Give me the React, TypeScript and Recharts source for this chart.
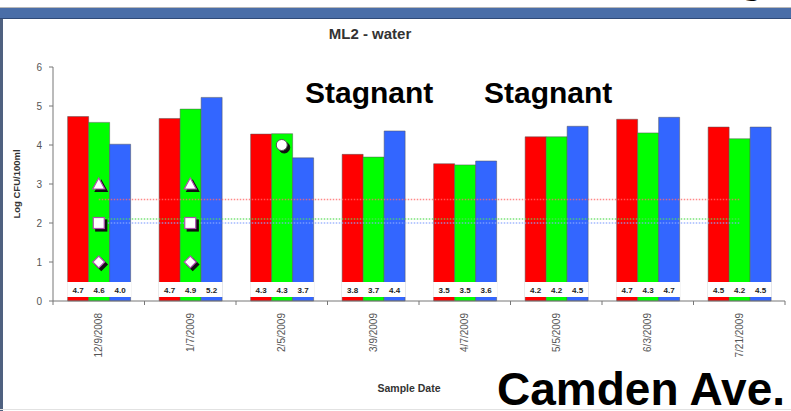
import React from 'react';
import { ComposedChart, Bar, Line, XAxis, YAxis, LabelList } from 'recharts';

// sample dates and log CFU/100ml values per series
const dates = ['12/9/2008', '1/7/2009', '2/5/2009', '3/9/2009', '4/7/2009', '5/5/2009', '6/3/2009', '7/21/2009'];
const redValues = [4.73, 4.68, 4.28, 3.76, 3.52, 4.21, 4.66, 4.46];
const greenValues = [4.58, 4.92, 4.29, 3.69, 3.49, 4.21, 4.31, 4.16];
const blueValues = [4.02, 5.22, 3.67, 4.36, 3.59, 4.48, 4.71, 4.46];

// dotted reference levels
const redLimit = 2.6;
const greenLimit = 2.1;
const blueLimit = 2.0;

// marker series (only on some dates)
const triangleValues = [3, 3, null, null, null, null, null, null];
const squareValues = [2, 2, null, null, null, null, null, null];
const diamondValues = [1, 1, null, null, null, null, null, null];
const circleValues = [null, null, 4, null, null, null, null, null];

const yTicks = [0, 1, 2, 3, 4, 5, 6];

const W = 791;
const H = 411;
const margin = { top: 67, right: 6, left: 0, bottom: 0 };
const yAxisWidth = 53;
const xAxisHeight = 110;
const halfBand = (W - margin.left - margin.right - yAxisWidth) / dates.length / 2;

const data = dates.map((date, i) => ({
  date,
  red: redValues[i],
  green: greenValues[i],
  blue: blueValues[i],
  redLimit,
  greenLimit,
  blueLimit,
  triangle: triangleValues[i],
  square: squareValues[i],
  diamond: diamondValues[i],
  circle: circleValues[i],
}));

const renderValueLabel = (props: any) => {
  const vb = props.viewBox || props;
  const { x, y, width, height } = vb;
  const value = props.value;
  if (value == null) return null;
  const bottom = y + height;
  return (
    <g>
      <rect x={x - 0.5} y={bottom - 19} width={width + 1} height={15} fill="#ffffff" />
      <text
        x={x + width / 2}
        y={bottom - 11}
        textAnchor="middle"
        dominantBaseline="central"
        fontSize={8}
        fontWeight="bold"
        fill="#222"
      >
        {Number(value).toFixed(1)}
      </text>
    </g>
  );
};

const markerDot = (kind: string) => (props: any) => {
  const { cx, cy, value, index } = props;
  const key = `${kind}-${index}`;
  if (value == null || cx == null || cy == null || isNaN(cy)) return <g key={key} />;
  const stroke = kind === 'circle' ? '#555' : '#b050b0';
  const shape = (dx: number, dy: number, fill: string, s: string) => {
    const x = cx + dx;
    const y = cy + dy;
    if (kind === 'triangle')
      return <polygon points={`${x},${y - 6} ${x + 6},${y + 5} ${x - 6},${y + 5}`} fill={fill} stroke={s} strokeWidth={1.2} />;
    if (kind === 'square')
      return <rect x={x - 5.5} y={y - 5.5} width={11} height={11} fill={fill} stroke={s} strokeWidth={1.2} />;
    if (kind === 'diamond')
      return <polygon points={`${x},${y - 6} ${x + 6},${y} ${x},${y + 6} ${x - 6},${y}`} fill={fill} stroke={s} strokeWidth={1.2} />;
    return <circle cx={x} cy={y} r={5.5} fill={fill} stroke={s} strokeWidth={1} />;
  };
  return (
    <g key={key}>
      {shape(2.5, 2.5, '#111', '#111')}
      {shape(0, 0, '#ffffff', stroke)}
    </g>
  );
};

const DateTick = (props: any) => {
  const { x, y, payload, index } = props;
  const ty = y + 12;
  return (
    <g>
      <line x1={x - halfBand} y1={y} x2={x - halfBand} y2={y + 4} stroke="#777" />
      {index === dates.length - 1 && <line x1={x + halfBand} y1={y} x2={x + halfBand} y2={y + 4} stroke="#777" />}
      <text
        x={x}
        y={ty}
        transform={`rotate(-90 ${x} ${ty})`}
        textAnchor="end"
        dy="0.35em"
        fontSize={10}
        fill="#555"
      >
        {payload.value}
      </text>
    </g>
  );
};

export default function App() {
  return (
    <div
      style={{
        position: 'absolute',
        left: 0,
        top: 0,
        width: W,
        height: H,
        background: '#fff',
        overflow: 'hidden',
        fontFamily: "'Liberation Sans', Arial, sans-serif",
      }}
    >
      {/* slide frame */}
      <div style={{ position: 'absolute', left: 0, top: 7, width: W, height: 1, background: '#b8b8b8' }} />
      <div style={{ position: 'absolute', left: 0, top: 8, width: W, height: 10, background: '#4a6ea8' }} />
      <div style={{ position: 'absolute', left: 0, top: 18, width: W, height: 1, background: '#2f4a78' }} />
      <div style={{ position: 'absolute', left: 0, top: 19, width: 3, height: H - 19, background: '#4f6180' }} />
      <div style={{ position: 'absolute', left: 0, top: 409, width: W, height: 1, background: '#e2e2e2' }} />

      <div style={{ position: 'absolute', left: 0, top: 0 }}>
        <ComposedChart width={W} height={H} data={data} margin={margin} barCategoryGap="16%" barGap={0}>
          <XAxis
            dataKey="date"
            interval={0}
            height={xAxisHeight}
            tickSize={0}
            tickMargin={0}
            tickLine={false}
            axisLine={{ stroke: '#777' }}
            tick={<DateTick />}
          />
          <XAxis xAxisId="top" dataKey="date" orientation="top" height={0} tick={false} tickLine={false} axisLine={{ stroke: '#b5b5b5' }} />
          <YAxis
            domain={[0, 6]}
            ticks={yTicks}
            width={yAxisWidth}
            tickSize={4}
            tickMargin={7}
            tick={{ fontSize: 10, fill: '#555' }}
            tickLine={{ stroke: '#777' }}
            axisLine={{ stroke: '#777' }}
          />
          <YAxis yAxisId="right" orientation="right" domain={[0, 6]} width={0} tick={false} tickLine={false} axisLine={{ stroke: '#b5b5b5' }} />

          <Bar dataKey="red" fill="#ff0000" stroke="#555" strokeWidth={0.5} isAnimationActive={false}>
            <LabelList dataKey="red" content={renderValueLabel} />
          </Bar>
          <Bar dataKey="green" fill="#00ff00" stroke="#555" strokeWidth={0.5} isAnimationActive={false}>
            <LabelList dataKey="green" content={renderValueLabel} />
          </Bar>
          <Bar dataKey="blue" fill="#3366ff" stroke="#555" strokeWidth={0.5} isAnimationActive={false}>
            <LabelList dataKey="blue" content={renderValueLabel} />
          </Bar>

          <Line dataKey="redLimit" stroke="#ff6b6b" strokeOpacity={0.8} strokeWidth={1.5} strokeDasharray="1.5 1.5" dot={false} activeDot={false} isAnimationActive={false} />
          <Line dataKey="greenLimit" stroke="#55dd55" strokeOpacity={0.8} strokeWidth={1.5} strokeDasharray="1.5 1.5" dot={false} activeDot={false} isAnimationActive={false} />
          <Line dataKey="blueLimit" stroke="#8aa6ff" strokeOpacity={0.8} strokeWidth={1.5} strokeDasharray="1.5 1.5" dot={false} activeDot={false} isAnimationActive={false} />

          <Line dataKey="triangle" stroke="none" dot={markerDot('triangle')} activeDot={false} isAnimationActive={false} />
          <Line dataKey="square" stroke="none" dot={markerDot('square')} activeDot={false} isAnimationActive={false} />
          <Line dataKey="diamond" stroke="none" dot={markerDot('diamond')} activeDot={false} isAnimationActive={false} />
          <Line dataKey="circle" stroke="none" dot={markerDot('circle')} activeDot={false} isAnimationActive={false} />
        </ComposedChart>
      </div>

      {/* titles and slide annotations */}
      <svg width={W} height={H} style={{ position: 'absolute', left: 0, top: 0, pointerEvents: 'none' }}>
        <text x={752} y={-7} textAnchor="middle" fontSize={40} fontWeight="bold" fill="#000">g</text>
        <text x={370} y={39} textAnchor="middle" fontSize={15} fontWeight="bold" fill="#333">ML2 - water</text>
        <text x={305} y={103} fontSize={30} fontWeight="bold" fill="#000">Stagnant</text>
        <text x={484} y={103} fontSize={30} fontWeight="bold" fill="#000">Stagnant</text>
        <text
          x={17}
          y={184}
          transform="rotate(-90 17 184)"
          textAnchor="middle"
          dy="0.35em"
          fontSize={9.5}
          fontWeight="bold"
          fill="#333"
        >
          Log CFU/100ml
        </text>
        <text x={409} y={392} textAnchor="middle" fontSize={10.5} fontWeight="bold" fill="#333">Sample Date</text>
        <text x={497} y={405} fontSize={46} fontWeight="bold" fill="#000">Camden Ave.</text>
      </svg>
    </div>
  );
}
